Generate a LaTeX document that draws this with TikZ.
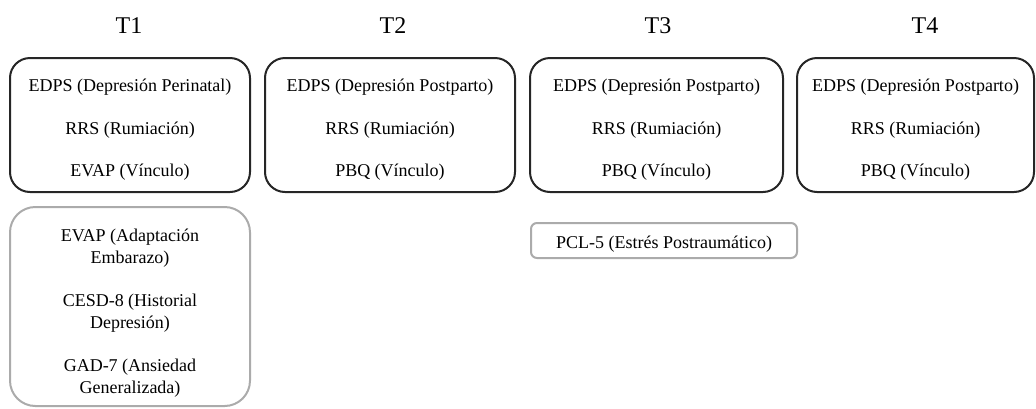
\documentclass[tikz,border=0pt]{standalone}
\usepackage{fontspec}
\setmainfont{Liberation Serif}
\tikzset{
  measure/.style={draw=black!85, line width=1.5pt, rounded corners=15pt,
    inner sep=0pt, minimum height=100.5pt},
  extra/.style={measure, draw=black!33},
  list/.style={align=center, inner sep=0pt, font=\fontsize{13.5}{16.5}\selectfont},
  title/.style={anchor=base, font=\fontsize{18}{22}\selectfont},
}
\begin{document}
\begin{tikzpicture}[x=0.75pt, y=-0.75pt]
\useasboundingbox (0,0) rectangle (1036,408);
% Draw the titles
        \node (t1) at (129,33) [title] {T1};
        \node (t2) at (393,33) [title] {T2};
        \node (t3) at (658,33) [title] {T3};
        \node (t4) at (925,33) [title] {T4};
% Draw the boxes
        \node (box1) at (130,125) [measure, minimum width=180pt] {};
        \node (box2) at (390,125) [measure, minimum width=187.5pt] {};
        \node (box3) at (656.5,125) [measure, minimum width=189.75pt] {};
        \node (box4) at (915.5,125) [measure, minimum width=177.75pt] {};
        \node (more1) at (130,306.5) [extra, minimum width=180pt, minimum height=149.25pt,
          rounded corners=19pt] {};
        \node (more3) at (664,240.5) [extra, minimum width=199.5pt, minimum height=26.25pt,
          rounded corners=4.5pt] {};
% Draw the texts
        \node (list1) at (130,130) [list]
          {EDPS (Depresión Perinatal)\\[15.4pt] RRS (Rumiación)\\[15.4pt] EVAP (Vínculo)};
        \node (list2) at (390,130) [list]
          {EDPS (Depresión Postparto)\\[15.4pt] RRS (Rumiación)\\[15.4pt] PBQ (Vínculo)};
        \node (list3) at (656.5,130) [list]
          {EDPS (Depresión Postparto)\\[15.4pt] RRS (Rumiación)\\[15.4pt] PBQ (Vínculo)};
        \node (list4) at (915.5,130) [list]
          {EDPS (Depresión Postparto)\\[15.4pt] RRS (Rumiación)\\[15.4pt] PBQ (Vínculo)};
        \node (listmore1) at (130,313) [list]
          {EVAP (Adaptación\\ Embarazo)\\[15.8pt] CESD-8 (Historial\\ Depresión)\\[15.8pt]
           GAD-7 (Ansiedad\\ Generalizada)};
        \node (listmore3) at (664,244) [list] {PCL-5 (Estrés Postraumático)};
\end{tikzpicture}
\end{document}
